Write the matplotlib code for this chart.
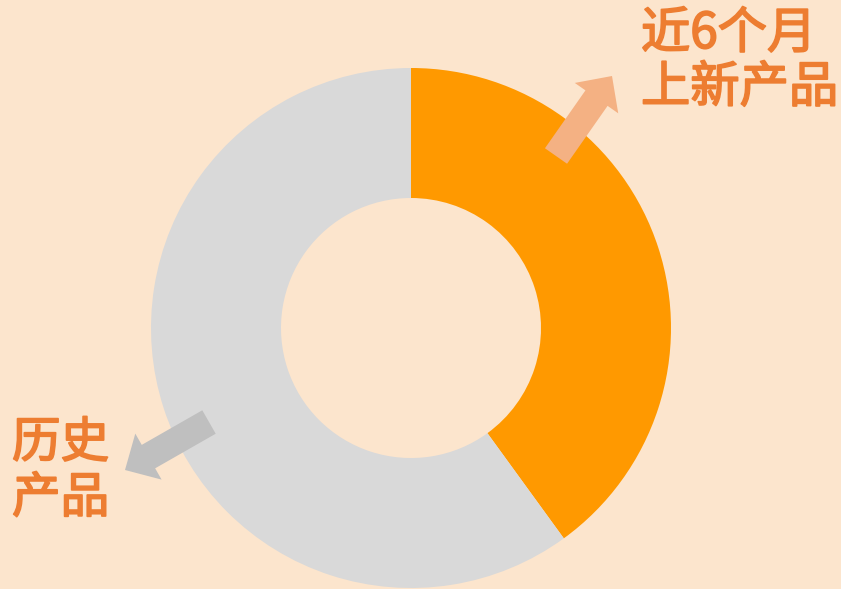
import matplotlib
matplotlib.use("Agg")
import matplotlib.pyplot as plt
import matplotlib.patheffects as pe

plt.rcParams['font.family'] = ['Noto Sans CJK SC', 'DejaVu Sans']

labels = ['近6个月\n上新产品', '历史\n产品']
shares = [40, 60]
colors = ['#FF9900', '#D9D9D9']

bg = '#FCE5CD'
text_color = '#ED7D31'

fig = plt.figure(figsize=(8.41, 5.89), dpi=100, facecolor=bg)
ax = fig.add_axes([0, 0, 1, 1])
ax.set_facecolor(bg)

# 环形图：从12点方向顺时针
ax.pie(shares, colors=colors, startangle=90, counterclock=False,
       center=(411, 261), radius=260,
       wedgeprops=dict(width=130, edgecolor='none'))
ax.set_xlim(0, 841)
ax.set_ylim(0, 589)
ax.set_aspect('auto')
ax.axis('off')

# 标注箭头
ax.arrow(556, 433, 56, 80, width=27, head_width=53, head_length=27,
         length_includes_head=True, color='#F4B183', lw=0)
ax.arrow(209, 167, -84, -48, width=27, head_width=53, head_length=27,
         length_includes_head=True, color='#BFBFBF', lw=0)

# 文字稍微加粗
thick = [pe.withStroke(linewidth=1.3, foreground=text_color)]
ax.text(641, 528, labels[0], fontsize=35.5, color=text_color,
        ha='left', va='center', linespacing=1.05, path_effects=thick)
ax.text(12, 118, labels[1], fontsize=35, color=text_color,
        ha='left', va='center', linespacing=1.15, path_effects=thick)

fig.savefig('out.png', dpi=100, facecolor=bg)
